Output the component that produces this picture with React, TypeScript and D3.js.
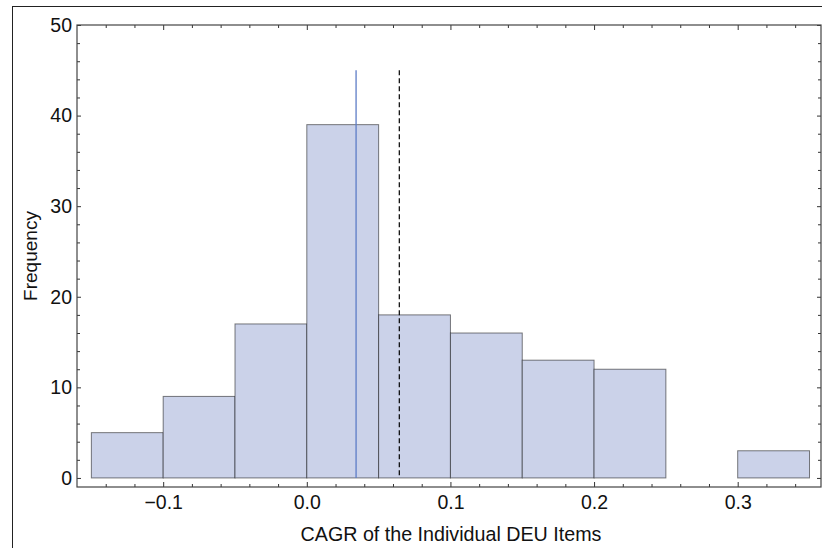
import React, { useEffect, useRef } from 'react'
import * as d3 from 'd3'

// histogram bins (CAGR) and counts
const binStarts = [-0.15, -0.1, -0.05, 0.0, 0.05, 0.1, 0.15, 0.2, 0.25, 0.3]
const binWidth = 0.05
const counts = [5, 9, 17, 39, 18, 16, 13, 12, 0, 3]

// reference lines
const medianLine = 0.0343
const meanLine = 0.0644
const refLineTop = 45

const xMajorTicks = [-0.1, 0.0, 0.1, 0.2, 0.3]
const yMajorTicks = [0, 10, 20, 30, 40, 50]

const xLabel = 'CAGR of the Individual DEU Items'
const yLabel = 'Frequency'

export default function App() {
  const ref = useRef<SVGSVGElement>(null)

  useEffect(() => {
    const W = 822, H = 548
    const left = 77, right = 821, top = 25, bottom = 487
    const font = '"Liberation Sans", Arial, Helvetica, sans-serif'

    const svg = d3.select(ref.current)
    svg.selectAll('*').remove()

    const x = d3.scaleLinear().domain([-0.16, 0.358]).range([left, right])
    const y = d3.scaleLinear().domain([-1, 50]).range([bottom, top])

    // outer picture frame
    svg.append('rect')
      .attr('x', 12.5).attr('y', 6.5)
      .attr('width', W).attr('height', H)
      .attr('fill', 'none').attr('stroke', '#222').attr('stroke-width', 1)

    // bars
    const bins = binStarts.map((s, i) => ({ x0: s, x1: s + binWidth, n: counts[i] })).filter(d => d.n > 0)
    svg.append('g').selectAll('rect')
      .data(bins).join('rect')
      .attr('x', d => x(d.x0))
      .attr('y', d => y(d.n))
      .attr('width', d => x(d.x1) - x(d.x0))
      .attr('height', d => y(0) - y(d.n))
      .attr('fill', '#cbd2e9')
      .attr('stroke', '#000')
      .attr('stroke-opacity', 0.5)
      .attr('stroke-width', 1)

    // reference lines
    svg.append('line')
      .attr('x1', x(medianLine)).attr('x2', x(medianLine))
      .attr('y1', y(refLineTop)).attr('y2', y(0))
      .attr('stroke', '#5d7cc6').attr('stroke-width', 1.3)
    svg.append('line')
      .attr('x1', x(meanLine)).attr('x2', x(meanLine))
      .attr('y1', y(refLineTop)).attr('y2', y(0))
      .attr('stroke', '#000').attr('stroke-width', 1.2)
      .attr('stroke-dasharray', '5,3')

    const xMinor = d3.range(-0.16, 0.36, 0.02).map(v => +v.toFixed(2)).filter(v => !xMajorTicks.some(m => Math.abs(m - v) < 1e-6) && v > -0.16)
    const yMinor = d3.range(0, 51, 2).filter(v => v % 10 !== 0)
    const fmt = d3.format('.1f')

    const styleAxis = (g: any) => {
      g.select('.domain').remove()
      g.selectAll('line').attr('stroke', '#333')
      g.selectAll('text').attr('font-family', font).attr('font-size', 19.5).attr('fill', '#111')
    }

    // bottom
    svg.append('g').attr('transform', `translate(0,${bottom})`)
      .call(d3.axisBottom(x).tickValues(xMajorTicks).tickFormat(d => fmt(d as number)).tickSize(-5).tickPadding(8))
      .call(styleAxis)
    svg.append('g').attr('transform', `translate(0,${bottom})`)
      .call(d3.axisBottom(x).tickValues(xMinor).tickFormat(() => '').tickSize(-3))
      .call(styleAxis)
    // top
    svg.append('g').attr('transform', `translate(0,${top})`)
      .call(d3.axisTop(x).tickValues(xMajorTicks).tickFormat(() => '').tickSize(-5))
      .call(styleAxis)
    svg.append('g').attr('transform', `translate(0,${top})`)
      .call(d3.axisTop(x).tickValues(xMinor).tickFormat(() => '').tickSize(-3))
      .call(styleAxis)
    // left
    svg.append('g').attr('transform', `translate(${left},0)`)
      .call(d3.axisLeft(y).tickValues(yMajorTicks).tickFormat(d3.format('d')).tickSize(-4).tickPadding(5))
      .call(styleAxis)
    svg.append('g').attr('transform', `translate(${left},0)`)
      .call(d3.axisLeft(y).tickValues(yMinor).tickFormat(() => '').tickSize(-3))
      .call(styleAxis)
    // right
    svg.append('g').attr('transform', `translate(${right},0)`)
      .call(d3.axisRight(y).tickValues(yMajorTicks).tickFormat(() => '').tickSize(-4))
      .call(styleAxis)
    svg.append('g').attr('transform', `translate(${right},0)`)
      .call(d3.axisRight(y).tickValues(yMinor).tickFormat(() => '').tickSize(-3))
      .call(styleAxis)

    // frame
    svg.append('rect')
      .attr('x', left).attr('y', top)
      .attr('width', right - left).attr('height', bottom - top)
      .attr('fill', 'none').attr('stroke', '#444').attr('stroke-width', 1.2)

    // axis labels
    svg.append('text')
      .attr('x', (left + right) / 2 + 2).attr('y', 541)
      .attr('text-anchor', 'middle')
      .attr('font-family', font).attr('font-size', 19.7).attr('fill', '#111')
      .text(xLabel)
    svg.append('text')
      .attr('transform', `translate(37, ${(top + bottom) / 2}) rotate(-90)`)
      .attr('text-anchor', 'middle')
      .attr('font-family', font).attr('font-size', 19).attr('fill', '#111')
      .text(yLabel)
  }, [])

  return (
    <svg ref={ref} width={822} height={548}
      style={{ position: 'absolute', left: 0, top: 0, background: '#fff' }} />
  )
}
